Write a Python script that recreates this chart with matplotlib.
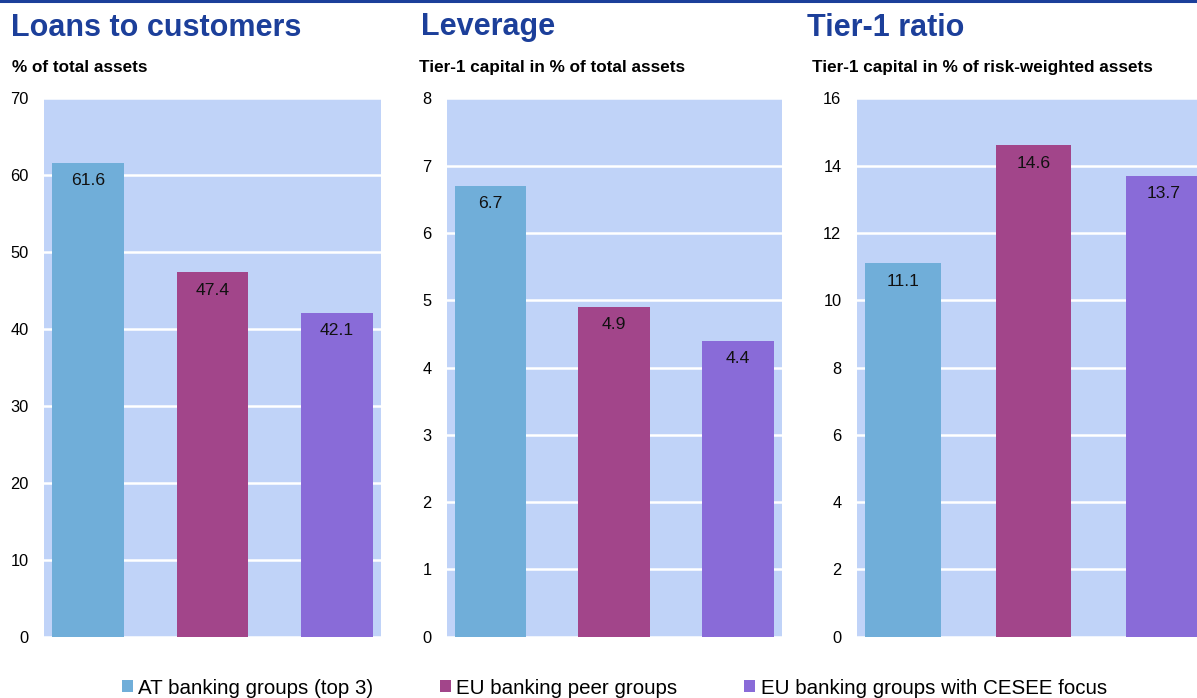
import matplotlib
matplotlib.use("Agg")
import matplotlib.pyplot as plt
from matplotlib.patches import Patch
from matplotlib.lines import Line2D

plt.rcParams['font.family'] = ['Liberation Sans', 'DejaVu Sans']

# ---- data ----
series = ["AT banking groups (top 3)", "EU banking peer groups", "EU banking groups with CESEE focus"]
titles = ["Loans to customers", "Leverage", "Tier-1 ratio"]
subtitles = ["% of total assets", "Tier-1 capital in % of total assets",
             "Tier-1 capital in % of risk-weighted assets"]
loans = [61.6, 47.4, 42.1]
leverage = [6.7, 4.9, 4.4]
tier1 = [11.1, 14.6, 13.7]
panel_values = [loans, leverage, tier1]
y_max = [70, 8, 16]
y_step = [10, 1, 2]

# ---- style ----
W, H = 1197, 698
colors = ["#70AED9", "#A2458A", "#896BD8"]
bg = "#C0D3F8"
title_col = "#1C3F9A"

fig = plt.figure(figsize=(W / 100, H / 100), dpi=100)

def fx(px):
    return px / W

def fy(py):
    return 1 - py / H

# axes rectangles in pixels: (left, right)
ax_px = [(44, 381), (446.7, 781.7), (856.7, 1210)]
top_px, bot_px = 98.3, 636.7
title_x = [11, 420.7, 806.7]
sub_x = [12, 419, 812]

bar_w = 0.578
for i, (l, r) in enumerate(ax_px):
    ax = fig.add_axes([fx(l), fy(bot_px), fx(r - l), (bot_px - top_px) / H])
    ax.set_facecolor(bg)
    ax.set_axisbelow(True)
    vals = panel_values[i]
    xs = list(range(len(vals)))
    ax.bar(xs, vals, width=bar_w, color=colors, zorder=3)
    ax.set_xlim(-bar_w / 2 - 0.064, len(vals) - 1 + bar_w / 2 + 0.064)
    ax.set_ylim(0, y_max[i])
    ticks = [k * y_step[i] for k in range(int(y_max[i] / y_step[i]) + 1)]
    ax.set_yticks(ticks)
    ax.set_yticklabels([str(t) for t in ticks])
    ax.set_xticks([])
    ax.tick_params(axis='y', length=0, pad=11, labelsize=11.8)
    ax.grid(axis='y', color='white', linewidth=1.8, zorder=1)
    for s in ax.spines.values():
        s.set_visible(False)
    for x, v in zip(xs, vals):
        ax.annotate(f"{v:.1f}", (x, v), xytext=(0, -13), textcoords='offset points',
                    ha='center', va='center', fontsize=12.6, color='#111111', zorder=4)
    fig.text(fx(title_x[i]), fy(35.5), titles[i], fontsize=22, fontweight='bold',
             color=title_col, ha='left', va='baseline')
    fig.text(fx(sub_x[i]), fy(72), subtitles[i], fontsize=12.3, fontweight='bold',
             color='black', ha='left', va='baseline')

# top rule
fig.add_artist(Line2D([0, 1], [fy(1), fy(1)], transform=fig.transFigure,
                      color=title_col, linewidth=2.2))

handles = [Patch(facecolor=c, edgecolor='none') for c in colors]
fig.legend(handles, series, loc='lower left', bbox_to_anchor=(fx(122), fy(697.5)),
           bbox_transform=fig.transFigure, ncol=3, frameon=False, fontsize=14.8,
           handlelength=0.54, handleheight=0.54, handletextpad=0.25,
           columnspacing=3.25, borderpad=0, borderaxespad=0)

fig.savefig("out.png", dpi=100)
